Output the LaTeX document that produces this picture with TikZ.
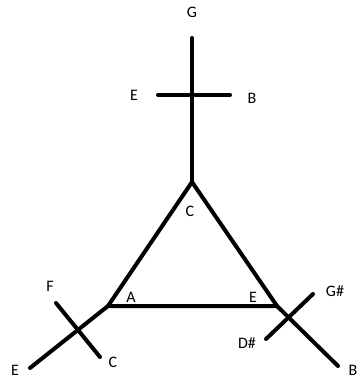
\documentclass[tikz,border=0pt]{standalone}
\usepackage{fontspec}
\setmainfont{Carlito}
\tikzset{
  stroke/.style={line width=4pt,line cap=round,line join=round},
  note/.style={inner sep=1pt,font=\fontsize{16}{16}\selectfont}
}
\begin{document}
\begin{tikzpicture}[x=1pt,y=-1pt]
\useasboundingbox (0,0) rectangle (360,382);
% triangle
\coordinate (apex-c) at (192,182);
\coordinate (vertex-a) at (108,306);
\coordinate (vertex-e) at (277,306);
\draw[stroke] (apex-c) -- (vertex-a) -- (vertex-e) -- cycle;
\node[note] (label-c) at (190,211) {C};
\node[note] (label-a) at (131,297) {A};
\node[note] (label-e) at (253,297) {E};
% upper cross
\coordinate (top-g) at (192,38);
\coordinate (top-e) at (158,95);
\coordinate (top-b) at (230,95);
\draw[stroke] (apex-c) -- (top-g);
\draw[stroke] (top-e) -- (top-b);
\node[note] (label-top-g) at (192,12) {G};
\node[note] (label-top-e) at (134,95) {E};
\node[note] (label-top-b) at (252,98) {B};
% left cross
\coordinate (left-e) at (30,368);
\coordinate (left-f) at (56,303);
\coordinate (left-c) at (100,357);
\draw[stroke] (vertex-a) -- (left-e);
\draw[stroke] (left-f) -- (left-c);
\node[note] (label-left-f) at (50,286) {F};
\node[note] (label-left-c) at (113,362) {C};
\node[note] (label-left-e) at (15,370) {E};
% right cross
\coordinate (right-b) at (338,366);
\coordinate (right-gs) at (313,294);
\coordinate (right-ds) at (266,339);
\draw[stroke] (vertex-e) -- (right-b);
\draw[stroke] (right-ds) -- (right-gs);
\node[note] (label-right-gs) at (335,291) {G\#};
\node[note] (label-right-ds) at (247,343) {D\#};
\node[note] (label-right-b) at (353,370) {B};
\end{tikzpicture}
\end{document}
